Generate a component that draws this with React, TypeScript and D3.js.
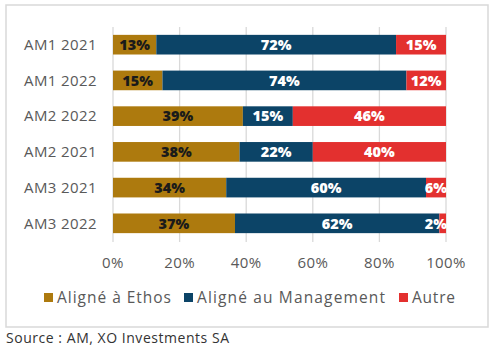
import React from "react";
import * as d3 from "d3";

const categories = ["AM1 2021", "AM1 2022", "AM2 2022", "AM2 2021", "AM3 2021", "AM3 2022"];
const ethos = [13, 15, 39, 38, 34, 37];
const management = [72, 74, 15, 22, 60, 62];
const autre = [15, 12, 46, 40, 6, 2];
const seriesNames = ["Aligné à Ethos", "Aligné au Management", "Autre"];
const colors = ["#AD7A0E", "#0C4467", "#E3302F"];
const labelColors = ["#1a1a1a", "#ffffff", "#ffffff"];
const ticks = [0, 20, 40, 60, 80, 100];

const FONT = "'Open Sans', 'DejaVu Sans', sans-serif";

export default function App() {
  const W = 494;
  const H = 352;
  const x = d3.scaleLinear().domain([0, 100]).range([113, 446]);
  const y = d3.scaleBand<string>().domain(categories).range([27, 241]).paddingInner(0.45).paddingOuter(0.22);

  const rows = categories.map((c, i) => [ethos[i], management[i], autre[i]]);
  // rounded shares can add up to 101, so the bars are scaled to 100%
  const stacked = rows.map(vals => {
    const total = d3.sum(vals);
    let acc = 0;
    return vals.map(v => {
      const s = acc;
      acc += (v / total) * 100;
      return [s, acc, v];
    });
  });

  // legend layout, widths taken from the original
  const legendX = [44, 184, 399];
  const legendW = [114, 188, 43];

  return (
    <svg width={W} height={H} style={{ position: "absolute", left: 0, top: 0, background: "#fff" }} fontFamily={FONT}>
      <rect x={6} y={5} width={482} height={322} fill="none" stroke="#d9d9d9" strokeWidth={1.5} />
      {ticks.map(t => (
        <line key={t} x1={x(t)} x2={x(t)} y1={27} y2={242} stroke="#d9d9d9" strokeWidth={1.3} />
      ))}
      {categories.map((c, i) => (
        <g key={c}>
          <text x={97} y={y(c)! + y.bandwidth() / 2} dy="0.35em" textAnchor="end" fontSize={15} letterSpacing={0.4} fill="#595959">
            {c}
          </text>
          {stacked[i].map(([s, e, v], k) => (
            <rect key={k} x={x(s)} y={y(c)} width={x(e) - x(s)} height={y.bandwidth()} fill={colors[k]} />
          ))}
          {stacked[i].map(([s, e, v], k) => (
            <text
              key={"l" + k}
              x={e >= 99 && v < 8 ? x(e) + 1 : (x(s) + x(e)) / 2}
              y={y(c)! + y.bandwidth() / 2}
              dy="0.36em"
              textAnchor={e >= 99 && v < 8 ? "end" : "middle"}
              fontSize={14.5}
              fontWeight={800}
              fill={labelColors[k]}
            >
              {v}%
            </text>
          ))}
        </g>
      ))}
      {ticks.map(t => (
        <text key={"t" + t} x={x(t)} y={263} dy="0.35em" textAnchor="middle" fontSize={15} letterSpacing={0.4} fill="#595959">
          {t}%
        </text>
      ))}
      {seriesNames.map((n, k) => (
        <g key={n}>
          <rect x={legendX[k]} y={293} width={9} height={9} fill={colors[k]} />
          <text
            x={legendX[k] + 13}
            y={298}
            dy="0.35em"
            fontSize={15.5}
            textLength={legendW[k]}
            lengthAdjust="spacing"
            fill="#595959"
          >
            {n}
          </text>
        </g>
      ))}
      <text x={6} y={338} dy="0.35em" fontSize={14} textLength={223} lengthAdjust="spacing" fill="#333">
        Source : AM, XO Investments SA
      </text>
    </svg>
  );
}
